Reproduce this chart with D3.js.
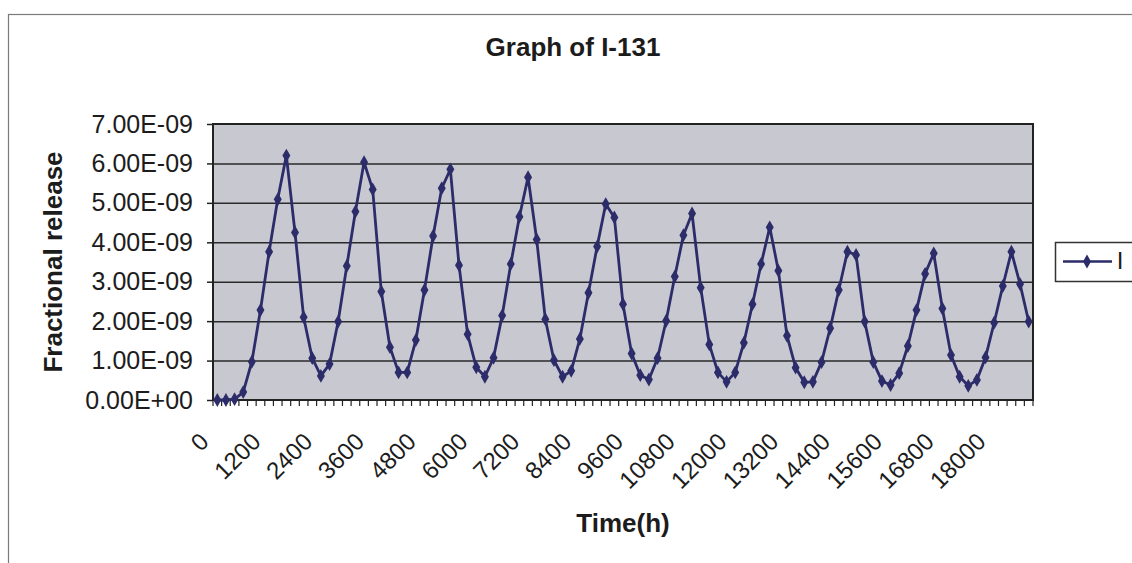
<!DOCTYPE html>
<html>
<head>
<meta charset="utf-8">
<script src="https://cdn.jsdelivr.net/npm/d3@7"></script>
<style>
  body { margin: 0; background: #fff; }
  svg { display: block; }
  text { font-family: "Liberation Sans", Arial, sans-serif; fill: #1c1c1c; }
</style>
</head>
<body>
<svg id="chart" width="1132" height="563"></svg>
<script>
// time in hours, one category every 200 h
const hours = [
    0, 200, 400, 600, 800, 1000, 1200, 1400, 1600, 1800,
    2000, 2200, 2400, 2600, 2800, 3000, 3200, 3400, 3600, 3800,
    4000, 4200, 4400, 4600, 4800, 5000, 5200, 5400, 5600, 5800,
    6000, 6200, 6400, 6600, 6800, 7000, 7200, 7400, 7600, 7800,
    8000, 8200, 8400, 8600, 8800, 9000, 9200, 9400, 9600, 9800,
    10000, 10200, 10400, 10600, 10800, 11000, 11200, 11400, 11600, 11800,
    12000, 12200, 12400, 12600, 12800, 13000, 13200, 13400, 13600, 13800,
    14000, 14200, 14400, 14600, 14800, 15000, 15200, 15400, 15600, 15800,
    16000, 16200, 16400, 16600, 16800, 17000, 17200, 17400, 17600, 17800,
    18000, 18200, 18400, 18600, 18800
];

// fractional release of I-131, in units of 1E-09
const release = [
    0, 0, 0.02, 0.2, 0.97, 2.28, 3.76, 5.09, 6.2, 4.25,
    2.1, 1.06, 0.61, 0.91, 1.99, 3.4, 4.78, 6.03, 5.34, 2.75,
    1.34, 0.7, 0.7, 1.52, 2.79, 4.16, 5.37, 5.85, 3.42, 1.67,
    0.83, 0.59, 1.07, 2.14, 3.45, 4.65, 5.65, 4.07, 2.05, 1.01,
    0.59, 0.74, 1.55, 2.72, 3.89, 4.97, 4.63, 2.43, 1.18, 0.63,
    0.52, 1.06, 2.01, 3.13, 4.18, 4.73, 2.85, 1.41, 0.7, 0.46,
    0.7, 1.45, 2.43, 3.45, 4.38, 3.28, 1.63, 0.82, 0.45, 0.46,
    0.96, 1.82, 2.79, 3.76, 3.68, 1.99, 0.96, 0.48, 0.38, 0.68,
    1.37, 2.28, 3.2, 3.72, 2.32, 1.14, 0.59, 0.36, 0.51, 1.08,
    1.96, 2.89, 3.76, 2.94, 1.99
];

const yTicks = [0, 1, 2, 3, 4, 5, 6, 7];
const xTickLabels = [0, 1200, 2400, 3600, 4800, 6000, 7200, 8400, 9600,
    10800, 12000, 13200, 14400, 15600, 16800, 18000];

const lineColor = '#2c2c6a';
const plot = { left: 213, top: 124, right: 1033, bottom: 400 };

const svg = d3.select('#chart');

// outer chart border (only top and left are inside the picture)
svg.append('rect')
    .attr('x', 8.5).attr('y', 14.5)
    .attr('width', 1200).attr('height', 600)
    .attr('fill', '#fff')
    .attr('stroke', '#7a7a7a')
    .attr('stroke-width', 1.2);

const x = d3.scaleBand()
    .domain(hours)
    .range([plot.left, plot.right])
    .padding(0);

const y = d3.scaleLinear()
    .domain([0, 7])
    .range([plot.bottom, plot.top]);

const fmt = function (v) {
    return v === 0 ? '0.00E+00' : v.toFixed(2) + 'E-09';
};

// plot area
svg.append('rect')
    .attr('x', plot.left).attr('y', plot.top)
    .attr('width', plot.right - plot.left)
    .attr('height', plot.bottom - plot.top)
    .attr('fill', '#c8c8d0');

// gridlines
svg.append('g')
    .attr('transform', `translate(${plot.left},0)`)
    .call(d3.axisLeft(y).tickValues(yTicks.slice(1, -1)).tickSize(-(plot.right - plot.left)).tickFormat(''))
    .call(g => g.select('.domain').remove())
    .call(g => g.selectAll('line').attr('stroke', '#2a2a2a').attr('stroke-width', 1.5));

// plot border
svg.append('rect')
    .attr('x', plot.left).attr('y', plot.top)
    .attr('width', plot.right - plot.left)
    .attr('height', plot.bottom - plot.top)
    .attr('fill', 'none')
    .attr('stroke', '#222')
    .attr('stroke-width', 2);

// y axis
svg.append('g')
    .attr('transform', `translate(${plot.left},0)`)
    .call(d3.axisLeft(y).tickValues(yTicks).tickSize(6).tickPadding(14).tickFormat(fmt))
    .call(g => g.select('.domain').remove())
    .call(g => g.selectAll('line').attr('stroke', '#222').attr('stroke-width', 1.5))
    .call(g => g.selectAll('text')
        .attr('font-size', 25)
        .style('font-family', '"Liberation Sans", Arial, sans-serif')
        .attr('fill', '#1c1c1c'));

// x axis tick marks at category boundaries
const bounds = hours.map(h => x(h)).concat([plot.right]);
svg.append('g')
    .selectAll('line')
    .data(bounds)
    .join('line')
    .attr('x1', d => d).attr('x2', d => d)
    .attr('y1', plot.bottom).attr('y2', plot.bottom + 6)
    .attr('stroke', '#222')
    .attr('stroke-width', 1.2);

// x tick labels, rotated
const half = x.bandwidth() / 2;
svg.append('g')
    .selectAll('text')
    .data(xTickLabels)
    .join('text')
    .attr('transform', d => `translate(${x(d) + half - 7},${plot.bottom + 43}) rotate(-45)`)
    .attr('text-anchor', 'end')
    .attr('font-size', 24)
    .text(d => d);

// series line and markers
const pts = hours.map((h, i) => ({ h: h, v: release[i] }));
const line = d3.line()
    .x(d => x(d.h) + half)
    .y(d => y(d.v));

svg.append('path')
    .datum(pts)
    .attr('d', line)
    .attr('fill', 'none')
    .attr('stroke', lineColor)
    .attr('stroke-width', 2.8)
    .attr('stroke-linejoin', 'round');

const diamond = d3.symbol().type(d3.symbolDiamond).size(55);
svg.append('g')
    .selectAll('path')
    .data(pts)
    .join('path')
    .attr('transform', d => `translate(${x(d.h) + half},${y(d.v)})`)
    .attr('d', diamond)
    .attr('fill', lineColor);

// titles
svg.append('text')
    .attr('x', 573).attr('y', 56)
    .attr('text-anchor', 'middle')
    .attr('font-size', 26)
    .attr('font-weight', 'bold')
    .text('Graph of I-131');

svg.append('text')
    .attr('transform', `translate(62,${(plot.top + plot.bottom) / 2}) rotate(-90)`)
    .attr('text-anchor', 'middle')
    .attr('font-size', 26)
    .attr('font-weight', 'bold')
    .text('Fractional release');

svg.append('text')
    .attr('x', (plot.left + plot.right) / 2).attr('y', 532)
    .attr('text-anchor', 'middle')
    .attr('font-size', 26)
    .attr('font-weight', 'bold')
    .text('Time(h)');

// legend
const lg = svg.append('g');
lg.append('rect')
    .attr('x', 1055.5).attr('y', 242.5)
    .attr('width', 120).attr('height', 39)
    .attr('fill', '#fff')
    .attr('stroke', '#333')
    .attr('stroke-width', 1.5);
lg.append('line')
    .attr('x1', 1063).attr('x2', 1112)
    .attr('y1', 261.5).attr('y2', 261.5)
    .attr('stroke', lineColor)
    .attr('stroke-width', 2.6);
lg.append('path')
    .attr('transform', 'translate(1087,261.5)')
    .attr('d', diamond)
    .attr('fill', lineColor);
lg.append('text')
    .attr('x', 1120).attr('y', 269)
    .attr('text-anchor', 'middle')
    .attr('font-size', 24)
    .text('I');
</script>
</body>
</html>
